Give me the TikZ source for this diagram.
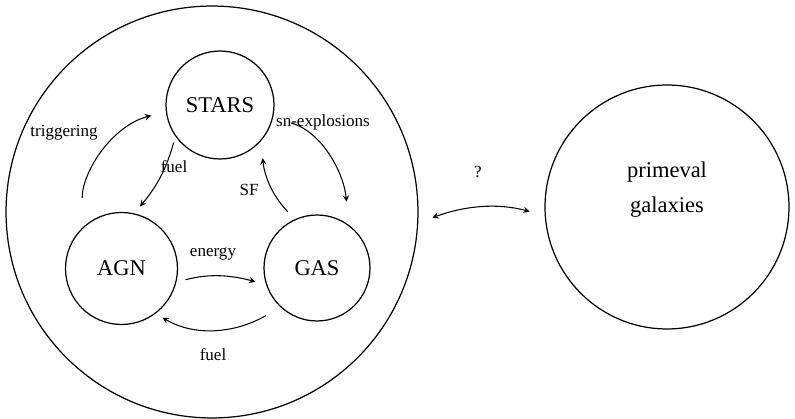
\documentclass[tikz,border=0pt]{standalone}
\usepackage{fontspec}
\setmainfont{Liberation Serif}
\tikzset{>=stealth}
\usetikzlibrary{shapes,positioning}
\colorlet{penColor}{black}
\tikzset{
  box/.style={circle, draw=penColor, line width=0.7pt, inner sep=0pt, font=\fontsize{12.8}{19.8}\selectfont},
  flow/.style={->, penColor, line width=0.6pt},
  lbl/.style={penColor, inner sep=1pt, font=\fontsize{9.7}{11}\selectfont},
}

\begin{document}
\begin{tikzpicture}[x=0.02cm, y=0.02cm]
				\useasboundingbox (0,0) rectangle (795,419);
				% the cycle and its parts
				\node[box, minimum size=8.24cm] (cyc) at (212,207) {};
				\node[box, minimum size=2.16cm] (stars) at (220,314) {STARS};
				\node[box, minimum size=2.24cm] (agn) at (121.5,150.5) {AGN};
				\node[box, minimum size=2.12cm] (gas) at (317,151) {GAS};
				\node[box, minimum size=4.88cm] (prim) at (667,212) {};
				\node[penColor, align=center, font=\fontsize{12.8}{19.8}\selectfont] (primtxt) at (667,229) {primeval\\galaxies};
				% arrows
				\draw[flow, shorten <=0.6cm, shorten >=0.3cm] (agn.134) to[out=90, in=195] (stars.187);
				\draw[flow, shorten <=0.13cm, shorten >=0.18cm] (stars.215) to[out=-105, in=50] (agn.77);
				\draw[flow, shorten <=0.37cm, shorten >=0.46cm] (stars.-14) to[out=-15, in=95] (gas.54);
				\draw[flow, shorten <=0.21cm, shorten >=0.35cm] (gas.114) to[out=135, in=-85] (stars.-41);
				\draw[flow, shorten <=0.19cm, shorten >=0.22cm] (agn.-14) to[out=15, in=165] (gas.198);
				\draw[flow, shorten <=0.34cm, shorten >=0.16cm] (gas.227) to[out=210, in=-30] (agn.-53);
				\draw[flow, <->, shorten <=0.3cm, shorten >=0.31cm] (cyc.-3) to[out=20, in=165] (prim.184);
				% labels
				\node[lbl] (ltrig) at (64,286) {triggering};
				\node[lbl] (lfuela) at (174,252) {fuel};
				\node[lbl] (lsn) at (323,297) {sn-explosions};
				\node[lbl] (lsf) at (249,229) {SF};
				\node[lbl] (lenergy) at (213,165) {energy};
				\node[lbl] (lfuelb) at (213,64) {fuel};
				\node[lbl] (lq) at (478,247) {?};
\end{tikzpicture}
\end{document}
